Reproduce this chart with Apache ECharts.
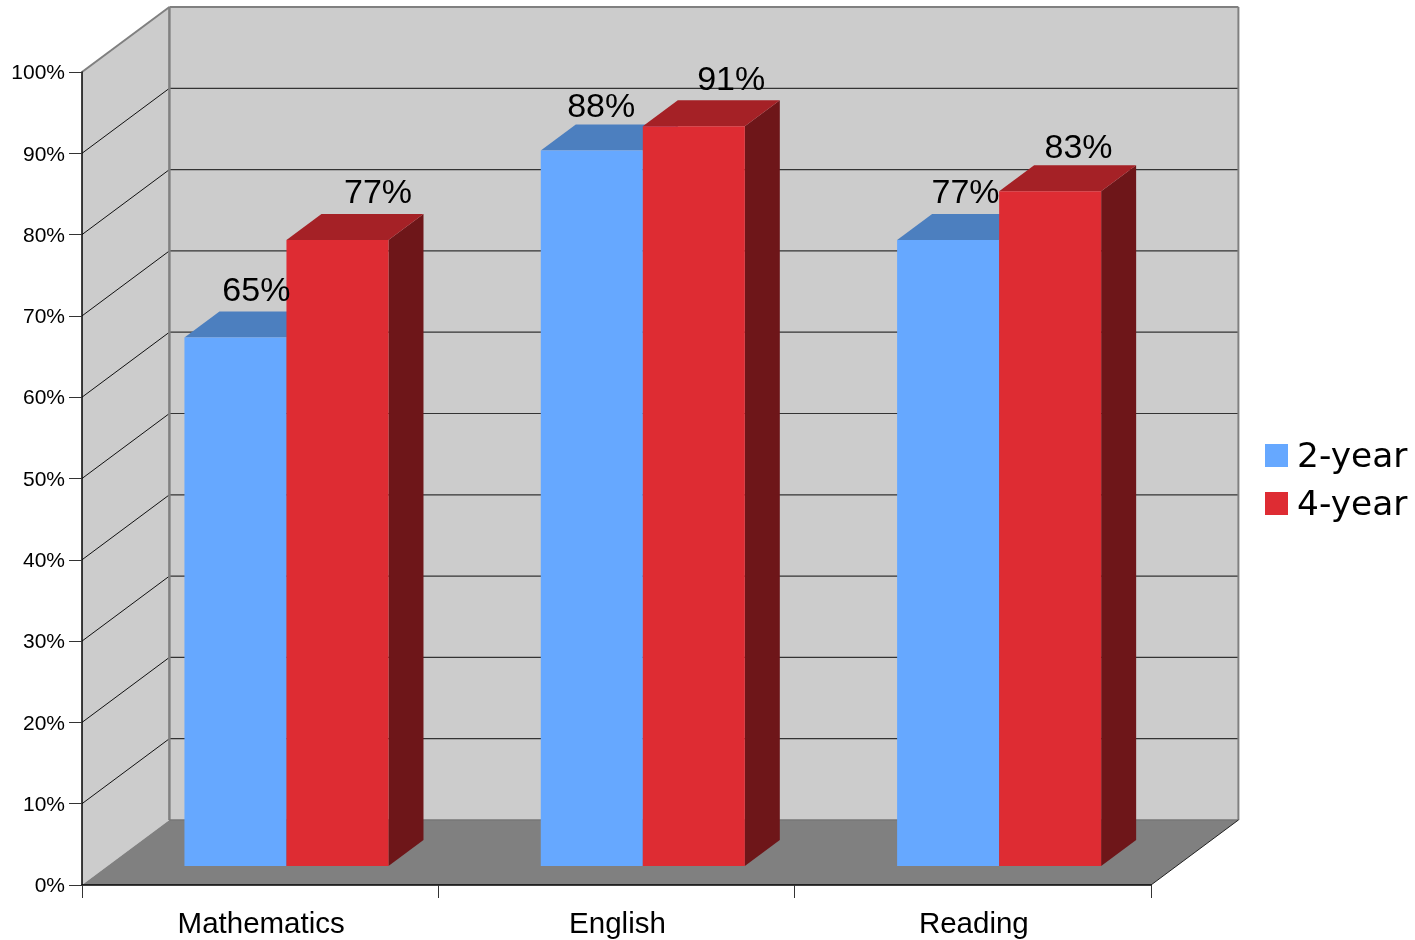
<!DOCTYPE html>
<html>
<head>
<meta charset="utf-8">
<style>html,body{margin:0;padding:0;background:#fff}#c{width:1415px;height:940px}</style>
<script src="https://cdn.jsdelivr.net/npm/echarts@6/dist/echarts.min.js"></script>
</head>
<body>
<div id="c"></div>
<script>
const categories = ['Mathematics', 'English', 'Reading'];
const twoYear = [65, 88, 77];
const fourYear = [77, 91, 83];
const yTicks = [10, 20, 30, 40, 50, 60, 70, 80, 90];

const FONT = '"Liberation Sans", Arial, sans-serif';
const WALL_D = [87.4, -65];
const BAR_BASE_D = [26.3, -19];
const BAR_D = [35, -26];
const BAR_FRAC = 0.2863;
const LABEL_DX = { '2-year': [20.9, 9.4, 17.4], '4-year': [40.6, 37.4, 28.4] };
const LABEL_DY = { '2-year': [-46, -43, -46], '4-year': [-46, -46, -43] };

function wallItem(params, api) {
  const o = api.coord([0, 0]);
  const band = api.size([1, 0])[0];
  const x0 = o[0] - band / 2;
  const x1 = x0 + band * categories.length;
  const y0 = o[1];
  const y100 = api.coord([0, 100])[1];
  const dx = WALL_D[0], dy = WALL_D[1];
  const kids = [];
  const poly = (pts, fill) => ({ type: 'polygon', shape: { points: pts }, style: { fill: fill } });
  const line = (a, b, c, w) => ({ type: 'line', shape: { x1: a[0], y1: a[1], x2: b[0], y2: b[1] }, style: { stroke: c, lineWidth: w } });
  kids.push(poly([[x0 + dx, y100 + dy], [x1 + dx, y100 + dy], [x1 + dx, y0 + dy], [x0 + dx, y0 + dy]], '#cccccc'));
  kids.push(poly([[x0, y100], [x0 + dx, y100 + dy], [x0 + dx, y0 + dy], [x0, y0]], '#cccccc'));
  kids.push(poly([[x0, y0], [x0 + dx, y0 + dy], [x1 + dx, y0 + dy], [x1, y0]], '#808080'));
  yTicks.forEach(t => {
    const y = api.coord([0, t])[1];
    kids.push(line([x0, y], [x0 + dx, y + dy], '#111111', 1));
    kids.push(line([x0 + dx, y + dy], [x1 + dx, y + dy], '#333333', 1.2));
  });
  kids.push(line([x0, y100], [x0 + dx, y100 + dy], '#808080', 2));
  kids.push(line([x0 + dx, y100 + dy], [x1 + dx, y100 + dy], '#808080', 2));
  kids.push(line([x0 + dx, y100 + dy], [x0 + dx, y0 + dy], '#808080', 2.5));
  kids.push(line([x1 + dx, y100 + dy], [x1 + dx, y0 + dy], '#808080', 2));
  kids.push(line([x0 + dx, y0 + dy], [x1 + dx, y0 + dy], '#777777', 1.5));
  kids.push(line([x1, y0], [x1 + dx, y0 + dy], '#222222', 1));
  return { type: 'group', children: kids };
}

function barRenderer(side, name, front, top, dark) {
  return function (params, api) {
    const i = api.value(0), v = api.value(1);
    const band = api.size([1, 0])[0];
    const w = band * BAR_FRAC;
    const c = api.coord([i, 0]);
    const t = api.coord([i, v]);
    const cx = c[0] + BAR_BASE_D[0];
    const xL = side === 0 ? cx - w : cx;
    const xR = xL + w;
    const yB = c[1] + BAR_BASE_D[1];
    const yT = t[1] + BAR_BASE_D[1];
    const dx = BAR_D[0], dy = BAR_D[1];
    const kids = [
      { type: 'polygon', shape: { points: [[xR, yT], [xR + dx, yT + dy], [xR + dx, yB + dy], [xR, yB]] }, style: { fill: dark } },
      { type: 'polygon', shape: { points: [[xL, yT], [xL + dx, yT + dy], [xR + dx, yT + dy], [xR, yT]] }, style: { fill: top } },
      { type: 'rect', shape: { x: xL, y: yT, width: w, height: yB - yT }, style: { fill: front } },
      { type: 'text', z2: 100, style: { text: v + '%', x: (xL + xR) / 2 + LABEL_DX[name][i], y: yT + LABEL_DY[name][i],
        align: 'center', verticalAlign: 'middle', fill: '#000', font: '34px ' + FONT } }
    ];
    return { type: 'group', children: kids };
  };
}

const chart = echarts.init(document.getElementById('c'), null, { renderer: 'canvas' });
chart.setOption({
  animation: false,
  backgroundColor: '#ffffff',
  grid: { left: 82, right: 264, top: 72, bottom: 55, containLabel: false },
  legend: {
    left: 1265, top: 441, padding: 0, orient: 'vertical', itemWidth: 23, itemHeight: 23, itemGap: 14,
    icon: 'rect', selectedMode: false, data: ['2-year', '4-year'],
    formatter: name => '{a|' + name + '}',
    textStyle: { rich: { a: { fontFamily: '"DejaVu Sans"', fontSize: 34.4, color: '#000', padding: [5, 0, 0, 4] } } }
  },
  xAxis: {
    type: 'category', data: categories, z: 2,
    axisLine: { show: true, lineStyle: { color: '#000', width: 1.5 } },
    axisTick: { show: true, length: 13, alignWithLabel: false, lineStyle: { color: '#333', width: 1 } },
    axisLabel: { formatter: '{a|{value}}', margin: 25,
      rich: { a: { fontFamily: FONT, fontSize: 29.5, color: '#000', padding: [0, 0, 0, 2] } } }
  },
  yAxis: {
    type: 'value', min: 0, max: 100, interval: 10, z: 2,
    axisLine: { show: true, lineStyle: { color: '#000', width: 1.5 } },
    axisTick: { show: true, length: 13, lineStyle: { color: '#333', width: 1 } },
    splitLine: { show: false },
    axisLabel: { formatter: '{a|{value}%}', margin: 17,
      rich: { a: { fontFamily: FONT, fontSize: 21, color: '#000', padding: [3, 0, 0, 0] } } }
  },
  series: [
    { type: 'custom', name: 'walls', z: 1, silent: true, clip: false, data: [[0, 0]], renderItem: wallItem,
      encode: { x: 0, y: 1 } },
    { type: 'custom', name: '2-year', z: 3, clip: false, itemStyle: { color: '#66a8ff' },
      data: twoYear.map((v, i) => [i, v]), encode: { x: 0, y: 1 },
      renderItem: barRenderer(0, '2-year', '#66a8ff', '#4c7fbf', '#3a6699') },
    { type: 'custom', name: '4-year', z: 3, clip: false, itemStyle: { color: '#de2c33' },
      data: fourYear.map((v, i) => [i, v]), encode: { x: 0, y: 1 },
      renderItem: barRenderer(1, '4-year', '#de2c33', '#a52126', '#6e1619') }
  ]
});
</script>
</body>
</html>
